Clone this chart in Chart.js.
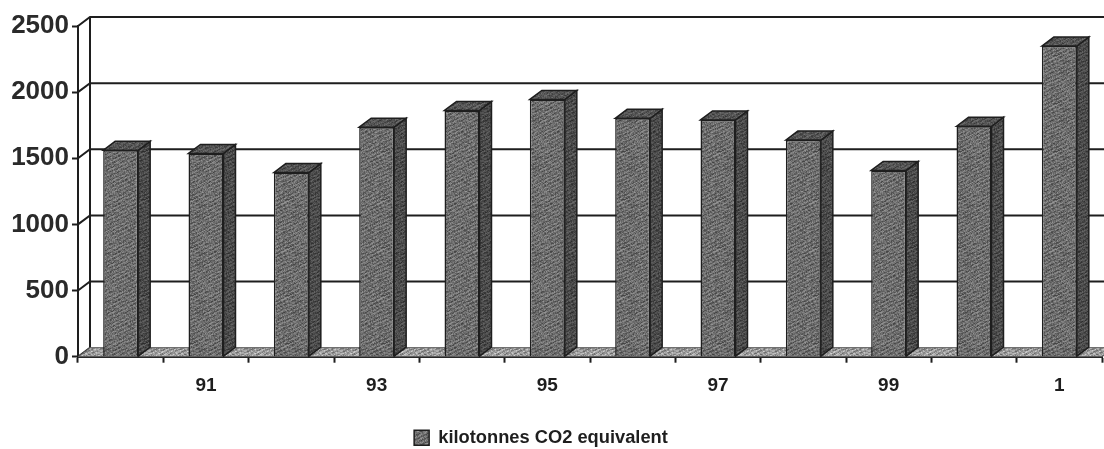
<!DOCTYPE html>
<html>
<head>
<meta charset="utf-8">
<script src="https://cdn.jsdelivr.net/npm/chart.js@4"></script>
<style>
html, body { margin: 0; padding: 0; background: #fff; overflow: hidden; }
#wrap { width: 1104px; height: 449px; }
</style>
</head>
<body>
<div id="wrap"><canvas id="chart" width="1104" height="449"></canvas></div>
<script>
const categories = ['90', '91', '92', '93', '94', '95', '96', '97', '98', '99', '0', '1'];
const emissions = [1560, 1537, 1392, 1735, 1862, 1945, 1802, 1790, 1638, 1408, 1742, 2348];
const yTicks = [0, 500, 1000, 1500, 2000, 2500];
const seriesName = 'kilotonnes CO2 equivalent';

const inkColor = '#1e1e1e';
const depthX = 12;
const depthY = 9;

// speckled print texture, same tile every run
function makeTexture(ctx, base, spread) {
    const size = 48;
    const tile = document.createElement('canvas');
    tile.width = size;
    tile.height = size;
    const t = tile.getContext('2d');
    const img = t.createImageData(size, size);
    for (let y = 0; y < size; y++) {
        for (let x = 0; x < size; x++) {
            const h = Math.sin(x * 12.9898 + y * 78.233) * 43758.5453;
            const n = h - Math.floor(h);
            const wave = Math.sin((x + y * 2) * 0.8);
            const v = base + (n - 0.5) * spread + wave * spread * 0.3;
            const i = (y * size + x) * 4;
            img.data[i] = img.data[i + 1] = img.data[i + 2] = v;
            img.data[i + 3] = 255;
        }
    }
    t.putImageData(img, 0, 0);
    return ctx.createPattern(tile, 'repeat');
}

const ctx = document.getElementById('chart').getContext('2d');
const frontFill = makeTexture(ctx, 108, 55);
const sideFill = makeTexture(ctx, 74, 40);
const topFill = makeTexture(ctx, 84, 40);
const floorFill = makeTexture(ctx, 155, 70);

function poly(c, pts, fill) {
    c.beginPath();
    pts.forEach((p, i) => i ? c.lineTo(p[0], p[1]) : c.moveTo(p[0], p[1]));
    c.closePath();
    if (fill) {
        c.fillStyle = fill;
        c.fill();
    }
    c.stroke();
}

const wallPlugin = {
    id: 'wall3d',
    afterLayout(chart) {
        // legend sits left of centre and lower than the default spot
        const lg = chart.legend;
        lg.left -= 10;
        lg.right -= 10;
        lg.top += 11;
        lg.bottom += 11;
    },
    beforeDatasetsDraw(chart) {
        const c = chart.ctx;
        const { left, right, bottom } = chart.chartArea;
        const y = chart.scales.y;
        c.save();
        c.strokeStyle = inkColor;
        c.lineWidth = 2;
        // back wall lines and the little diagonals back from the axis
        yTicks.forEach(v => {
            const py = y.getPixelForValue(v);
            c.beginPath();
            c.moveTo(left, py);
            c.lineTo(left + depthX, py - depthY);
            if (v > 0) c.lineTo(chart.width, py - depthY);
            c.stroke();
        });
        c.beginPath();
        c.moveTo(left + depthX, y.getPixelForValue(2500) - depthY);
        c.lineTo(left + depthX, bottom - depthY);
        c.stroke();
        // floor
        c.lineWidth = 1;
        c.strokeStyle = '#555';
        poly(c, [[left, bottom], [left + depthX, bottom - depthY], [chart.width + depthX, bottom - depthY], [right, bottom]], floorFill);
        c.restore();
    },
    afterDatasetsDraw(chart) {
        const c = chart.ctx;
        c.save();
        c.strokeStyle = inkColor;
        c.lineWidth = 1.5;
        chart.getDatasetMeta(0).data.forEach(bar => {
            const x0 = bar.x - bar.width / 2;
            const x1 = bar.x + bar.width / 2;
            poly(c, [[x1, bar.y], [x1 + depthX, bar.y - depthY], [x1 + depthX, bar.base - depthY], [x1, bar.base]], sideFill);
            poly(c, [[x0, bar.y], [x0 + depthX, bar.y - depthY], [x1 + depthX, bar.y - depthY], [x1, bar.y]], topFill);
        });
        c.restore();
    }
};

new Chart(ctx, {
    type: 'bar',
    data: {
        labels: categories,
        datasets: [{
            label: seriesName,
            data: emissions,
            backgroundColor: frontFill,
            borderColor: inkColor,
            borderWidth: 1.5,
            barPercentage: 0.41,
            categoryPercentage: 1
        }]
    },
    options: {
        responsive: false,
        animation: false,
        layout: { padding: { top: 26, right: 2, bottom: 3, left: 0 } },
        plugins: {
            tooltip: { enabled: false },
            legend: {
                position: 'bottom',
                labels: {
                    boxWidth: 15,
                    boxHeight: 15,
                    padding: 6,
                    color: inkColor,
                    font: { family: 'Liberation Sans', size: 18.3, weight: 'bold' }
                }
            }
        },
        scales: {
            x: {
                afterFit: s => { s.height = 55; },
                border: { color: inkColor, width: 2 },
                grid: { drawOnChartArea: false, tickLength: 6, tickColor: inkColor, tickWidth: 2 },
                ticks: {
                    autoSkip: false,
                    maxRotation: 0,
                    padding: 12,
                    color: inkColor,
                    font: { family: 'Liberation Sans', size: 19, weight: 'bold' },
                    callback(value, index) { return index % 2 ? categories[index] : ''; }
                }
            },
            y: {
                min: 0,
                max: 2500,
                afterFit: s => { s.width = 78; },
                border: { color: inkColor, width: 2 },
                grid: { drawOnChartArea: false, tickLength: 6, tickColor: inkColor, tickWidth: 2 },
                ticks: {
                    stepSize: 500,
                    padding: 3,
                    color: '#2a2a2a',
                    font: { family: 'Liberation Sans', size: 26, weight: 'bold' },
                    callback: value => String(value)
                }
            }
        }
    },
    plugins: [wallPlugin]
});
</script>
</body>
</html>
